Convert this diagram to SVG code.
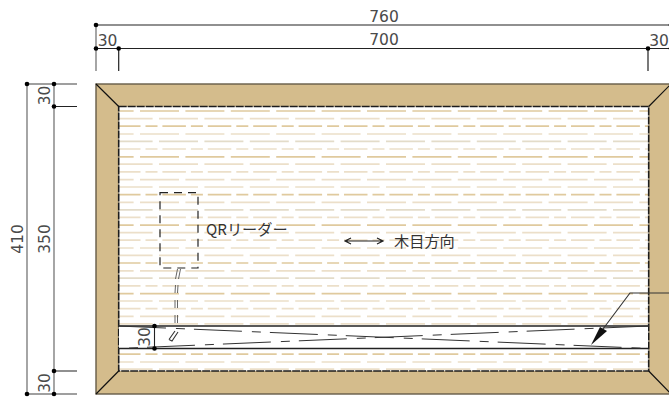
<svg xmlns="http://www.w3.org/2000/svg" width="669" height="398" viewBox="0 0 669 398">
<style>
text{font-family:"DejaVu Sans","Noto Sans CJK JP",sans-serif;font-size:15.5px;fill:#4a4a4a}
.jp{font-family:"Noto Sans CJK JP",sans-serif;font-size:15.2px;fill:#333}
.dim{stroke:#222;stroke-width:1.2;fill:none}
.ext{stroke:#808080;stroke-width:1.4;fill:none}
.a,.b,.c{stroke-width:1.7;fill:none}
.a{stroke-dasharray:39 6.4;stroke-dashoffset:24.4}
.b{stroke-dasharray:39 6.4;stroke-dashoffset:5.4}
.c{stroke-dasharray:23.5 5 12 4.9;stroke-dashoffset:2}
.p{stroke:#ecdfc9}.t{stroke:#e0ca9e}.g{stroke:#e3dcc9}
.dbl{fill:none;stroke:#555;stroke-width:.9}
</style>
<rect width="669" height="398" fill="#fff"/>
<g id="panel">
<rect x="96" y="84" width="575" height="310" fill="#d4bc8c" stroke="#665c48" stroke-width="1.4"/>
<rect x="118.700" y="106.500" width="530" height="264.500" fill="#fff"/>
</g>
<g id="grain">
<path class="a p" d="M119 134H648M119 179.600H648M119 202.400H648M119 248H648M119 270.800H648M119 316.400H648"/>
<path class="a t" d="M119 111H648M119 156.800H648M119 225.200H648M119 293.600H648"/>
<path class="b p" d="M119 118.600H648M119 164.200H648M119 187H648M119 232.600H648M119 255.400H648M119 301H648M119 323.800H648"/>
<path class="b g" d="M119 141.400H648M119 209.800H648M119 278.200H648"/>
<path class="c p" d="M119 149H648M119 171.800H648M119 217.400H648M119 240.200H648M119 285.800H648M119 308.600H648"/>
<path class="c t" d="M119 126.200H648M119 194.600H648M119 263H648M119 354.200H648"/>
<path class="a p" d="M119 362H648"/>
<path class="b p" d="M119 369.200H648"/>
</g>
<g id="frame-lines" fill="none" stroke="#111" stroke-width="1.2">
<rect x="118.700" y="106.500" width="530" height="264.500" stroke-dasharray="8 1" stroke-width="1.6" stroke="#1c1c1c"/>
<path d="M96 84 118.700 106.500M96 394 118.700 371M671 84 648.700 106.500M671 394 648.700 371"/>
</g>
<g id="connectors">
<path class="dim" d="M96 25H671M96 48.500H671"/>
<path class="ext" d="M27 84V394M54 84V394M96 25V71M27 84H77M27 394H77"/>
<path class="dim" d="M118.700 48.500V71M648 48.500V71M54 106.500H77M54 371H77"/>
<g fill="#000">
<circle cx="96" cy="25" r="2.300"/><circle cx="671" cy="25" r="2.300"/><circle cx="96" cy="48.500" r="2.300"/><circle cx="118.700" cy="48.500" r="2.300"/><circle cx="648" cy="48.500" r="2.300"/><circle cx="671" cy="48.500" r="2.300"/>
<circle cx="27" cy="84" r="2.300"/><circle cx="54" cy="84" r="2.300"/><circle cx="54" cy="106.500" r="2.300"/><circle cx="54" cy="371" r="2.300"/><circle cx="27" cy="394" r="2.300"/><circle cx="54" cy="394" r="2.300"/>
</g>
</g>
<g id="band">
<rect x="119" y="326" width="529" height="22.500" fill="#fff"/>
<path d="M118.700 326H648.700M118.700 348.500H648.700" stroke="#222" stroke-width="1.4" fill="none"/>
<path d="M154.500 326V348.500" stroke="#222" stroke-width="1.100" fill="none"/>
<path d="M118 326 648.700 348.500" stroke="#333" stroke-width="1" fill="none" stroke-dasharray="48 10 9 9"/>
<path d="M118 348.500 648.700 326" stroke="#333" stroke-width="1" fill="none" stroke-dasharray="48 10 9 9" stroke-dashoffset="47"/>
<circle cx="154.500" cy="326" r="2.300"/><circle cx="154.500" cy="348.500" r="2.300"/>
</g>
<g id="qr-reader">
<rect x="160" y="192.700" width="38" height="75.300" fill="none" stroke="#222" stroke-width="1.200" stroke-dasharray="8 6"/>
<path class="dbl" d="M177.500 269 175.500 279M180.500 269 178.500 279M175.500 285 175 293M178 285 177.500 293M175 300V308M177.500 300V308M175 315V323M177.500 315V323"/>
<path d="M175 331 169 339.500M178 332 172 341 169 339.500" fill="none" stroke="#333" stroke-width="1.100"/>
<text x="206" y="234.500" class="jp">QRリーダー</text>
</g>
<g id="grain-direction">
<path d="M345 241H383M351 238 345 241 351 244M377 238 383 241 377 244" fill="none" stroke="#222" stroke-width="1.200"/>
<text x="394" y="247" class="jp">木目方向</text>
</g>
<g id="leader">
<path d="M669 293H630L603 329" fill="none" stroke="#333" stroke-width="1.100"/>
<path d="M591 345 600 327 607 331Z" fill="#111"/>
</g>
<g id="labels">
<text x="384" y="22" text-anchor="middle">760</text>
<text x="384" y="45" text-anchor="middle">700</text>
<text x="107.500" y="45.500" text-anchor="middle">30</text>
<text x="659" y="45.500" text-anchor="middle">30</text>
<text transform="translate(23 239) rotate(-90)" text-anchor="middle">410</text>
<text transform="translate(50 239) rotate(-90)" text-anchor="middle">350</text>
<text transform="translate(50 95.500) rotate(-90)" text-anchor="middle">30</text>
<text transform="translate(50 383) rotate(-90)" text-anchor="middle">30</text>
<text transform="translate(150 337) rotate(-90)" text-anchor="middle">30</text>
</g>
</svg>
